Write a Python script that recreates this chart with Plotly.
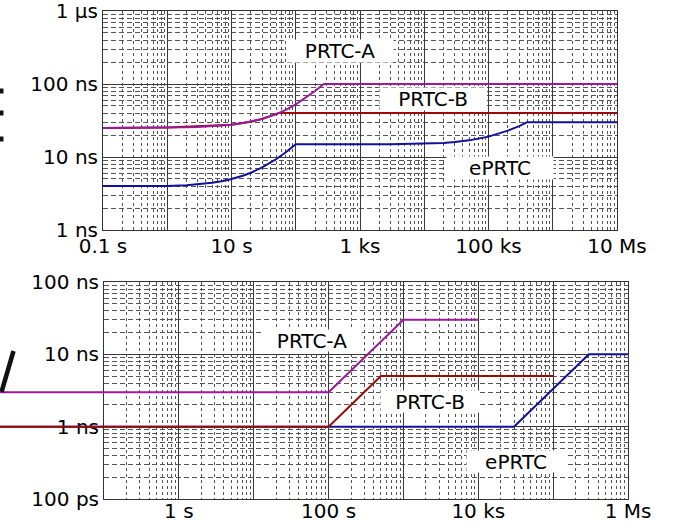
import math
import plotly.graph_objects as go

W, H = 674, 523

# ---------------- data (top: MTIE masks) ----------------
top_a_tau = [0.1, 0.3, 1, 2, 3, 5, 7, 10, 15, 20, 30, 50, 70, 100, 150, 200, 273, 1e7]
top_a_ns = [25.03, 25.08, 25.28, 25.55, 25.83, 26.38, 26.93, 27.75, 29.13, 30.5, 33.25,
            38.75, 44.25, 52.5, 66.25, 80, 100, 100]
top_b_tau = [0.1, 1, 10, 20, 30, 40, 54.5, 1e7]
top_b_ns = [25.03, 25.28, 27.75, 30.5, 33.25, 36.0, 40, 40]
top_e_tau = [0.1, 1, 2, 3, 5, 7, 10, 15, 20, 30, 50, 70, 100, 3000, 1e4, 2e4, 3e4,
             5e4, 1e5, 2e5, 3e5, 4e5, 1e7]
top_e_ns = [4, 4, 4.11, 4.22, 4.44, 4.66, 4.99, 5.54, 6.09, 7.19, 9.39, 11.59, 15, 15,
            15.3, 15.6, 16.0, 16.9, 19.0, 23.0, 26.5, 30, 30]

# ---------------- data (bottom: TDEV masks) ----------------
bot_a_tau = [0.004, 100, 1000, 1e4]
bot_a_ns = [3, 3, 30, 30]
bot_b_tau = [0.004, 100, 500, 1e5]
bot_b_ns = [1, 1, 5, 5]
bot_e_tau = [0.004, 3e4, 3e5, 1e6]
bot_e_ns = [1, 1, 10, 10]

top_xtickvals = [0.1, 1, 10, 100, 1e3, 1e4, 1e5, 1e6, 1e7]
top_xticktext = ["0.1 s", "", "10 s", "", "1 ks", "", "100 ks", "", "10 Ms"]
top_ytickvals = [1, 10, 100, 1000]
top_yticktext = ["1 ns", "10 ns", "100 ns", "1 µs"]
bot_xtickvals = [0.1, 1, 10, 100, 1e3, 1e4, 1e5, 1e6]
bot_xticktext = ["", "1 s", "", "100 s", "", "10 ks", "", "1 Ms"]
bot_ytickvals = [0.1, 1, 10, 100]
bot_yticktext = ["100 ps", "1 ns", "10 ns", "100 ns"]

labels = ["PRTC-A", "PRTC-B", "ePRTC"]
top_label_x = [489, 13700, 151000]
top_label_y = [283, 62, 7.07]
bot_label_x = [60, 2260, 31900]
bot_label_y = [15.3, 2.26, 0.334]

C_A = "#9a1a9a"
C_B = "#9a0a0a"
C_E = "#10109a"


def minor_vals(n0, n1):
    return [k * 10 ** n for n in range(n0, n1) for k in range(2, 10)]


def px_x(p):
    return p / W


def px_y(p):
    return 1 - p / H


top_xdom = [px_x(103), px_x(617)]
top_ydom = [px_y(230), px_y(11)]
bot_xdom = [px_x(104), px_x(628)]
bot_ydom = [px_y(499), px_y(282)]

# extended invisible axes for the bottom chart (lines run past the left edge)
span = 7.0 / (bot_xdom[1] - bot_xdom[0])
x3_left = -1 - bot_xdom[0] * span

fig = go.Figure()

fig.add_trace(go.Scatter(x=top_e_tau, y=top_e_ns, mode="lines", line=dict(color=C_E, width=2),
                         xaxis="x", yaxis="y", showlegend=False))
fig.add_trace(go.Scatter(x=top_b_tau, y=top_b_ns, mode="lines", line=dict(color=C_B, width=2),
                         xaxis="x", yaxis="y", showlegend=False))
fig.add_trace(go.Scatter(x=top_a_tau, y=top_a_ns, mode="lines", line=dict(color=C_A, width=2),
                         xaxis="x", yaxis="y", showlegend=False))

# empty trace so the visible bottom subplot is created
fig.add_trace(go.Scatter(x=[], y=[], mode="lines", xaxis="x2", yaxis="y2", showlegend=False))

fig.add_trace(go.Scatter(x=bot_e_tau, y=bot_e_ns, mode="lines", line=dict(color=C_E, width=2),
                         xaxis="x3", yaxis="y3", showlegend=False))
fig.add_trace(go.Scatter(x=bot_b_tau, y=bot_b_ns, mode="lines", line=dict(color=C_B, width=2),
                         xaxis="x3", yaxis="y3", showlegend=False))
fig.add_trace(go.Scatter(x=bot_a_tau, y=bot_a_ns, mode="lines", line=dict(color=C_A, width=2),
                         xaxis="x3", yaxis="y3", showlegend=False))

tickfont = dict(family="DejaVu Sans", size=20, color="#000")
major = dict(showgrid=True, gridcolor="#3a3a3a", gridwidth=1, showline=True, mirror=True,
             linecolor="#333", linewidth=1, ticks="", tickfont=tickfont, automargin=False,
             zeroline=False, type="log", tickmode="array", ticklabeloverflow="allow")


def minor(vals, dash):
    return dict(tickmode="array", tickvals=vals, showgrid=True, gridcolor="#555",
                griddash=dash, gridwidth=1, ticks="")


fig.update_layout(
    width=W, height=H, margin=dict(l=0, r=0, t=0, b=0),
    paper_bgcolor="white", plot_bgcolor="rgba(0,0,0,0)",
    xaxis=dict(**major, domain=top_xdom, anchor="y", range=[-1, 7],
               tickvals=top_xtickvals, ticktext=top_xticktext, ticklabelstandoff=-2,
               minor=minor(minor_vals(-1, 7), "3px,3px")),
    yaxis=dict(**major, domain=top_ydom, anchor="x", range=[0, 3],
               tickvals=top_ytickvals, ticktext=top_yticktext,
               minor=minor(minor_vals(0, 3), "5px,3px")),
    xaxis2=dict(**major, domain=bot_xdom, anchor="y2", range=[-1, 6],
                tickvals=bot_xtickvals, ticktext=bot_xticktext, ticklabelstandoff=-6,
                minor=minor(minor_vals(-1, 6), "3px,3px")),
    yaxis2=dict(**major, domain=bot_ydom, anchor="x2", range=[-1, 2],
                tickvals=bot_ytickvals, ticktext=bot_yticktext,
                minor=minor(minor_vals(-1, 2), "5px,3px")),
    xaxis3=dict(type="log", domain=[0, bot_xdom[1]], anchor="y3", range=[x3_left, 6],
                visible=False, showgrid=False, zeroline=False),
    yaxis3=dict(type="log", domain=bot_ydom, anchor="x3", range=[-1, 2],
                visible=False, showgrid=False, zeroline=False),
)

annfont = dict(family="DejaVu Sans", size=20, color="#000")
for t, x, y in zip(labels, top_label_x, top_label_y):
    fig.add_annotation(x=math.log10(x), y=math.log10(y), xref="x", yref="y", text=t,
                       showarrow=False, font=annfont, bgcolor="white", width=106, height=22,
                       borderpad=0)
for t, x, y in zip(labels, bot_label_x, bot_label_y):
    fig.add_annotation(x=math.log10(x), y=math.log10(y), xref="x2", yref="y2", text=t,
                       showarrow=False, font=annfont, bgcolor="white", width=98, height=21,
                       borderpad=0)

# cropped slide marks at the far left
for cy in [91, 113, 139]:
    fig.add_shape(type="rect", xref="paper", yref="paper",
                  x0=px_x(0), x1=px_x(3.5), y0=px_y(cy + 2.5), y1=px_y(cy - 2.5),
                  fillcolor="#111", line=dict(width=0))
fig.add_shape(type="line", xref="paper", yref="paper",
              x0=px_x(13.5), y0=px_y(351), x1=px_x(1.5), y1=px_y(392),
              line=dict(color="#111", width=4.5))

fig.write_html("out.html", config={"displayModeBar": False},
               post_script="document.body.style.margin='0';")
